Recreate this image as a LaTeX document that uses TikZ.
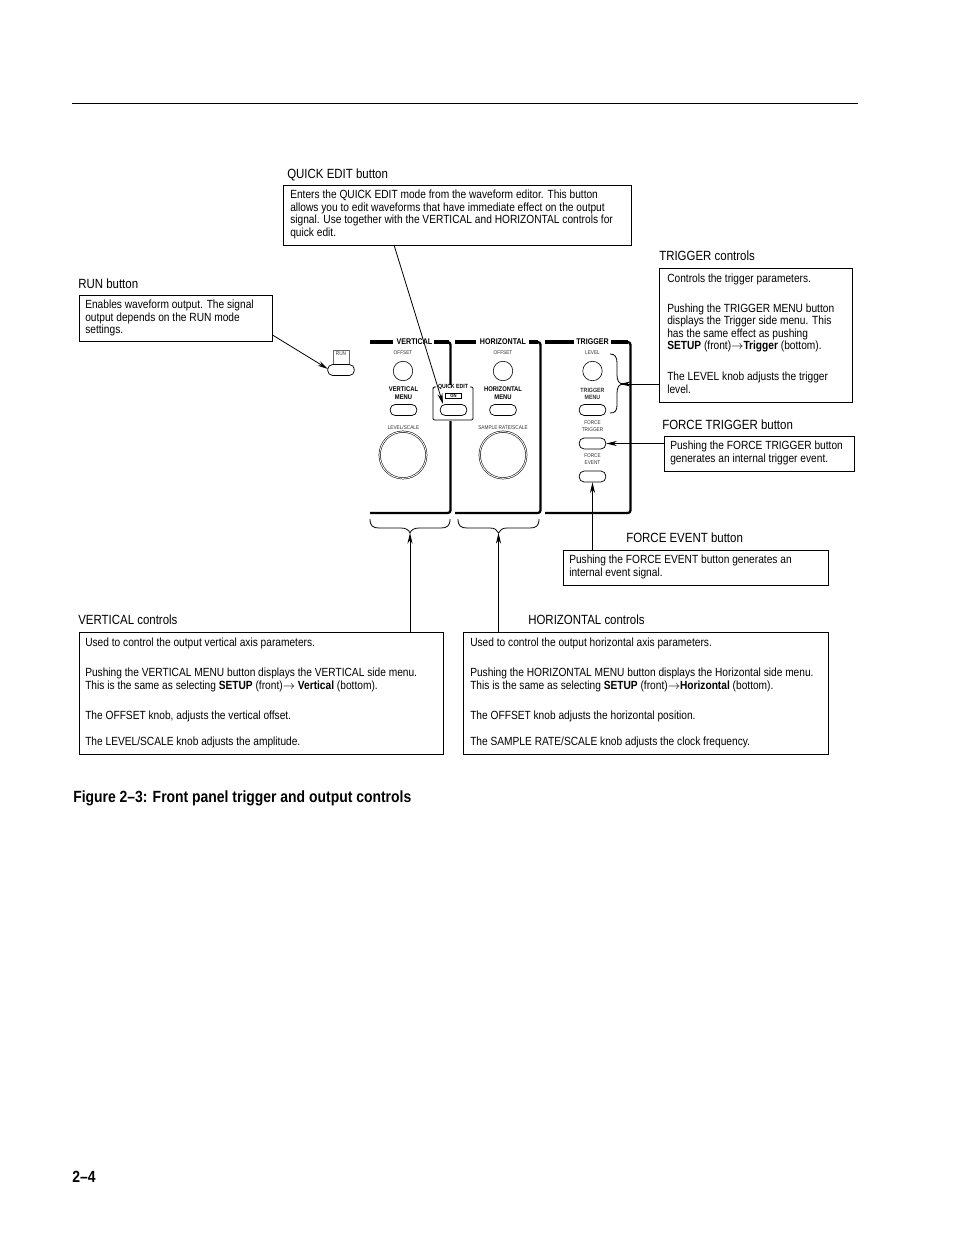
\documentclass[tikz,border=0pt]{standalone}
\usepackage{fontspec}
\setmainfont[FakeStretch=0.86]{Liberation Sans}
\usetikzlibrary{arrows.meta}
\tikzset{
  box/.style={draw=black,line width=0.7pt,anchor=north west,inner sep=0pt,fill=white},
  txt/.style={anchor=north west,inner sep=0pt,align=left,font=\fontsize{8.88}{9.4}\selectfont},
  lbl/.style={anchor=north west,inner sep=0pt,font=\fontsize{10}{10}\selectfont},
  heading/.style={anchor=north west,inner sep=0pt,font=\fontsize{12.15}{12}\selectfont\bfseries},
  ptitle/.style={inner sep=0pt,font=\fontsize{6.2}{6.2}\selectfont\bfseries},
  pbold/.style={inner sep=0pt,align=center,font=\fontsize{5.1}{5.6}\selectfont\bfseries},
  psmall/.style={inner sep=0pt,align=center,text=black!80,font=\fontsize{4.1}{4.8}\selectfont},
  btn/.style={draw=black,line width=0.55pt,rounded corners=3.7pt,minimum width=20pt,minimum height=8.2pt,inner sep=0pt},
  knob/.style={draw=black,circle,line width=0.45pt,minimum size=14.6pt,inner sep=0pt},
  bigknob/.style={draw=black,circle,double=white,double distance=0.7pt,line width=0.4pt,minimum size=35pt,inner sep=0pt},
  frame/.style={line width=1.7pt,line cap=butt,rounded corners=2pt},
  topbar/.style={line width=3pt,line cap=butt},
  brace/.style={line width=0.6pt},
  conn/.style={line width=0.6pt,-{Stealth[length=8pt,width=3.8pt]}}
}
\begin{document}
\begin{tikzpicture}[x=0.75pt,y=-0.75pt]
\useasboundingbox (0,0) rectangle (954,1235);
\fill[white] (0,0) rectangle (954,1235);
\coordinate (ruleL) at (72,103); \coordinate (ruleR) at (858,103);
\draw[line width=0.75pt] (ruleL) -- (ruleR);

% ---- panels
\draw[topbar] (370,342) -- (393,342);
\draw[topbar] (434,342) -- (449,342);
\draw[frame] (446,342) -| (450.5,385);
\draw[frame] (450.5,421) -- (450.5,513) -- (370,513);
\node[ptitle] (tv) at (414.5,342) {VERTICAL};
\draw[topbar] (455,342) -- (476,342);
\draw[topbar] (529,342) -- (538,342);
\draw[frame] (536,342) -| (540.5,513) -- (455,513);
\node[ptitle] (th) at (503,342) {HORIZONTAL};
\draw[topbar] (545,342) -- (574,342);
\draw[topbar] (611,342) -- (628,342);
\draw[frame] (626,342) -| (630.5,513) -- (545,513);
\node[ptitle] (tt) at (592.5,342) {TRIGGER};

% run
\node[draw=black!60,line width=0.4pt,minimum width=12pt,minimum height=11.5pt,inner sep=0pt] (runtab) at (341,358) {};
\node[psmall] (runt) at (341,354) {RUN};
\node[btn,fill=white] (runbtn) at (341,370) {};

% vertical
\node[psmall] (v1) at (403,353) {OFFSET};
\node[knob] (v2) at (403,371) {};
\node[pbold] (v3) at (403.5,393) {VERTICAL\\MENU};
\node[btn] (v4) at (403.5,410) {};
\node[psmall] (v5) at (403.5,427.5) {LEVEL/SCALE};
\node[bigknob] (v6) at (403,455) {};

% quick edit
\draw[line width=0.7pt,rounded corners=1pt] (436,387) -- (433,387) -- (433,420) -- (473,420) -- (473,387) -- (470,387);
\node[pbold,font=\fontsize{4.5}{5}\selectfont\bfseries] (qt) at (453,386.5) {QUICK EDIT};
\node[draw=black,line width=0.5pt,minimum width=12pt,minimum height=4pt,inner sep=0pt] (qon) at (453.5,395.5) {\fontsize{3.6}{4}\selectfont\bfseries ON};
\node[btn] (qbtn) at (453.5,410) {};

% horizontal
\node[psmall] (h1) at (503,353) {OFFSET};
\node[knob] (h2) at (503,371) {};
\node[pbold] (h3) at (503,393) {HORIZONTAL\\MENU};
\node[btn] (h4) at (503,410) {};
\node[psmall] (h5) at (503,427.5) {SAMPLE RATE/SCALE};
\node[bigknob] (h6) at (503,455) {};

% trigger
\node[psmall] (t1) at (592.5,353) {LEVEL};
\node[knob] (t2) at (592.5,371) {};
\node[psmall,font=\fontsize{4.6}{5.2}\selectfont\bfseries] (t3) at (592.5,394) {TRIGGER\\MENU};
\node[btn] (t4) at (592.5,410) {};
\node[psmall] (t5) at (592.5,426) {FORCE\\TRIGGER};
\node[btn] (t6) at (592.5,443.5) {};
\node[psmall] (t7) at (592.5,459) {FORCE\\EVENT};
\node[btn] (t8) at (592.5,476.5) {};

% braces
\coordinate (vtip) at (410,533);
\coordinate (htip) at (498.5,533);
\coordinate (ttip) at (620,384);
\draw[brace] (370,519) .. controls (370,526) and (373,528) .. (379,528) -- (401,528) .. controls (406,528) and (409,530) .. (vtip) .. controls (411,530) and (414,528) .. (419,528) -- (441,528) .. controls (447,528) and (450,526) .. (450,519);
\draw[brace] (458,519) .. controls (458,526) and (461,528) .. (467,528) -- (490,528) .. controls (495,528) and (497,530) .. (htip) .. controls (500,530) and (502,528) .. (507,528) -- (530,528) .. controls (536,528) and (539,526) .. (539,519);
\draw[brace] (610,354) .. controls (615,354) and (617,357) .. (617,363) -- (617,375) .. controls (617,381) and (619,384) .. (624,384) .. controls (619,384) and (617,387) .. (617,393) -- (617,405) .. controls (617,411) and (615,413) .. (610,413);

% ---- callouts
\node[lbl] (lq) at (287,169) {QUICK EDIT button};
\node[box,minimum width=261pt,minimum height=45pt] (bq) at (283,185) {};
\node[txt] (tq) at (290,190) {Enters the QUICK EDIT mode from the waveform editor. This button\\allows you to edit waveforms that have immediate effect on the output\\signal. Use together with the VERTICAL and HORIZONTAL controls for\\quick edit.};

\node[lbl] (lr) at (78,279) {RUN button};
\node[box,minimum width=144.5pt,minimum height=34.5pt] (br) at (79,295) {};
\node[txt] (tr) at (85,300) {Enables waveform output. The signal\\output depends on the RUN mode\\settings.};

\node[lbl] (lt) at (659,251) {TRIGGER controls};
\node[box,minimum width=144.5pt,minimum height=100.5pt] (bt) at (659,268) {};
\node[txt] (t1a) at (667,273.5) {Controls the trigger parameters.};
\node[txt] (t1b) at (667,303.5) {Pushing the TRIGGER MENU button\\displays the Trigger side menu. This\\has the same effect as pushing\\\textbf{SETUP} (front)$\rightarrow$\textbf{Trigger} (bottom).};
\node[txt] (t1c) at (667,372) {The LEVEL knob adjusts the trigger\\level.};

\node[lbl] (lf) at (662,420) {FORCE TRIGGER button};
\node[box,minimum width=142.5pt,minimum height=26pt] (bf) at (664,436) {};
\node[txt] (tf) at (670,441) {Pushing the FORCE TRIGGER button\\generates an internal trigger event.};

\node[lbl] (le) at (626,533) {FORCE EVENT button};
\node[box,minimum width=198.5pt,minimum height=26pt] (be) at (563,550) {};
\node[txt] (te) at (569,555) {Pushing the FORCE EVENT button generates an\\internal event signal.};

\node[lbl] (lv) at (78,615) {VERTICAL controls};
\node[box,minimum width=273pt,minimum height=91.5pt] (bv) at (79,632) {};
\node[txt] (v1a) at (85,637.5) {Used to control the output vertical axis parameters.};
\node[txt] (v1b) at (85,668) {Pushing the VERTICAL MENU button displays the VERTICAL side menu.\\This is the same as selecting \textbf{SETUP} (front)$\rightarrow$ \textbf{Vertical} (bottom).};
\node[txt] (v1c) at (85,711) {The OFFSET knob, adjusts the vertical offset.};
\node[txt] (v1d) at (85,737) {The LEVEL/SCALE knob adjusts the amplitude.};

\node[lbl] (lh) at (528,615) {HORIZONTAL controls};
\node[box,minimum width=273.5pt,minimum height=91.5pt] (bh) at (463,632) {};
\node[txt] (h1a) at (470,637.5) {Used to control the output horizontal axis parameters.};
\node[txt] (h1b) at (470,668) {Pushing the HORIZONTAL MENU button displays the Horizontal side menu.\\This is the same as selecting \textbf{SETUP} (front)$\rightarrow$\textbf{Horizontal} (bottom).};
\node[txt] (h1c) at (470,711) {The OFFSET knob adjusts the horizontal position.};
\node[txt] (h1d) at (470,737) {The SAMPLE RATE/SCALE knob adjusts the clock frequency.};

% ---- connectors
\coordinate (qs) at (394,245);
\coordinate (qe) at (443,404);
\draw[conn] (qs) -- (qe);
\coordinate (rs) at (272.5,335);
\coordinate (re) at (328,369);
\draw[conn] (rs) -- (re);
\draw[conn] (bt.west |- ttip) -- (ttip);
\draw[conn] (bf.west |- t6) -- (t6.east);
\draw[conn] (be.north -| t8) -- (t8.south);
\draw[conn] (bv.north -| vtip) -- (vtip);
\draw[conn] (bh.north -| htip) -- (htip);

\node[heading] (fig) at (73,790) {Figure 2–3: Front panel trigger and output controls};
\node[heading] (pg) at (72,1171) {2–4};
\end{tikzpicture}
\end{document}
